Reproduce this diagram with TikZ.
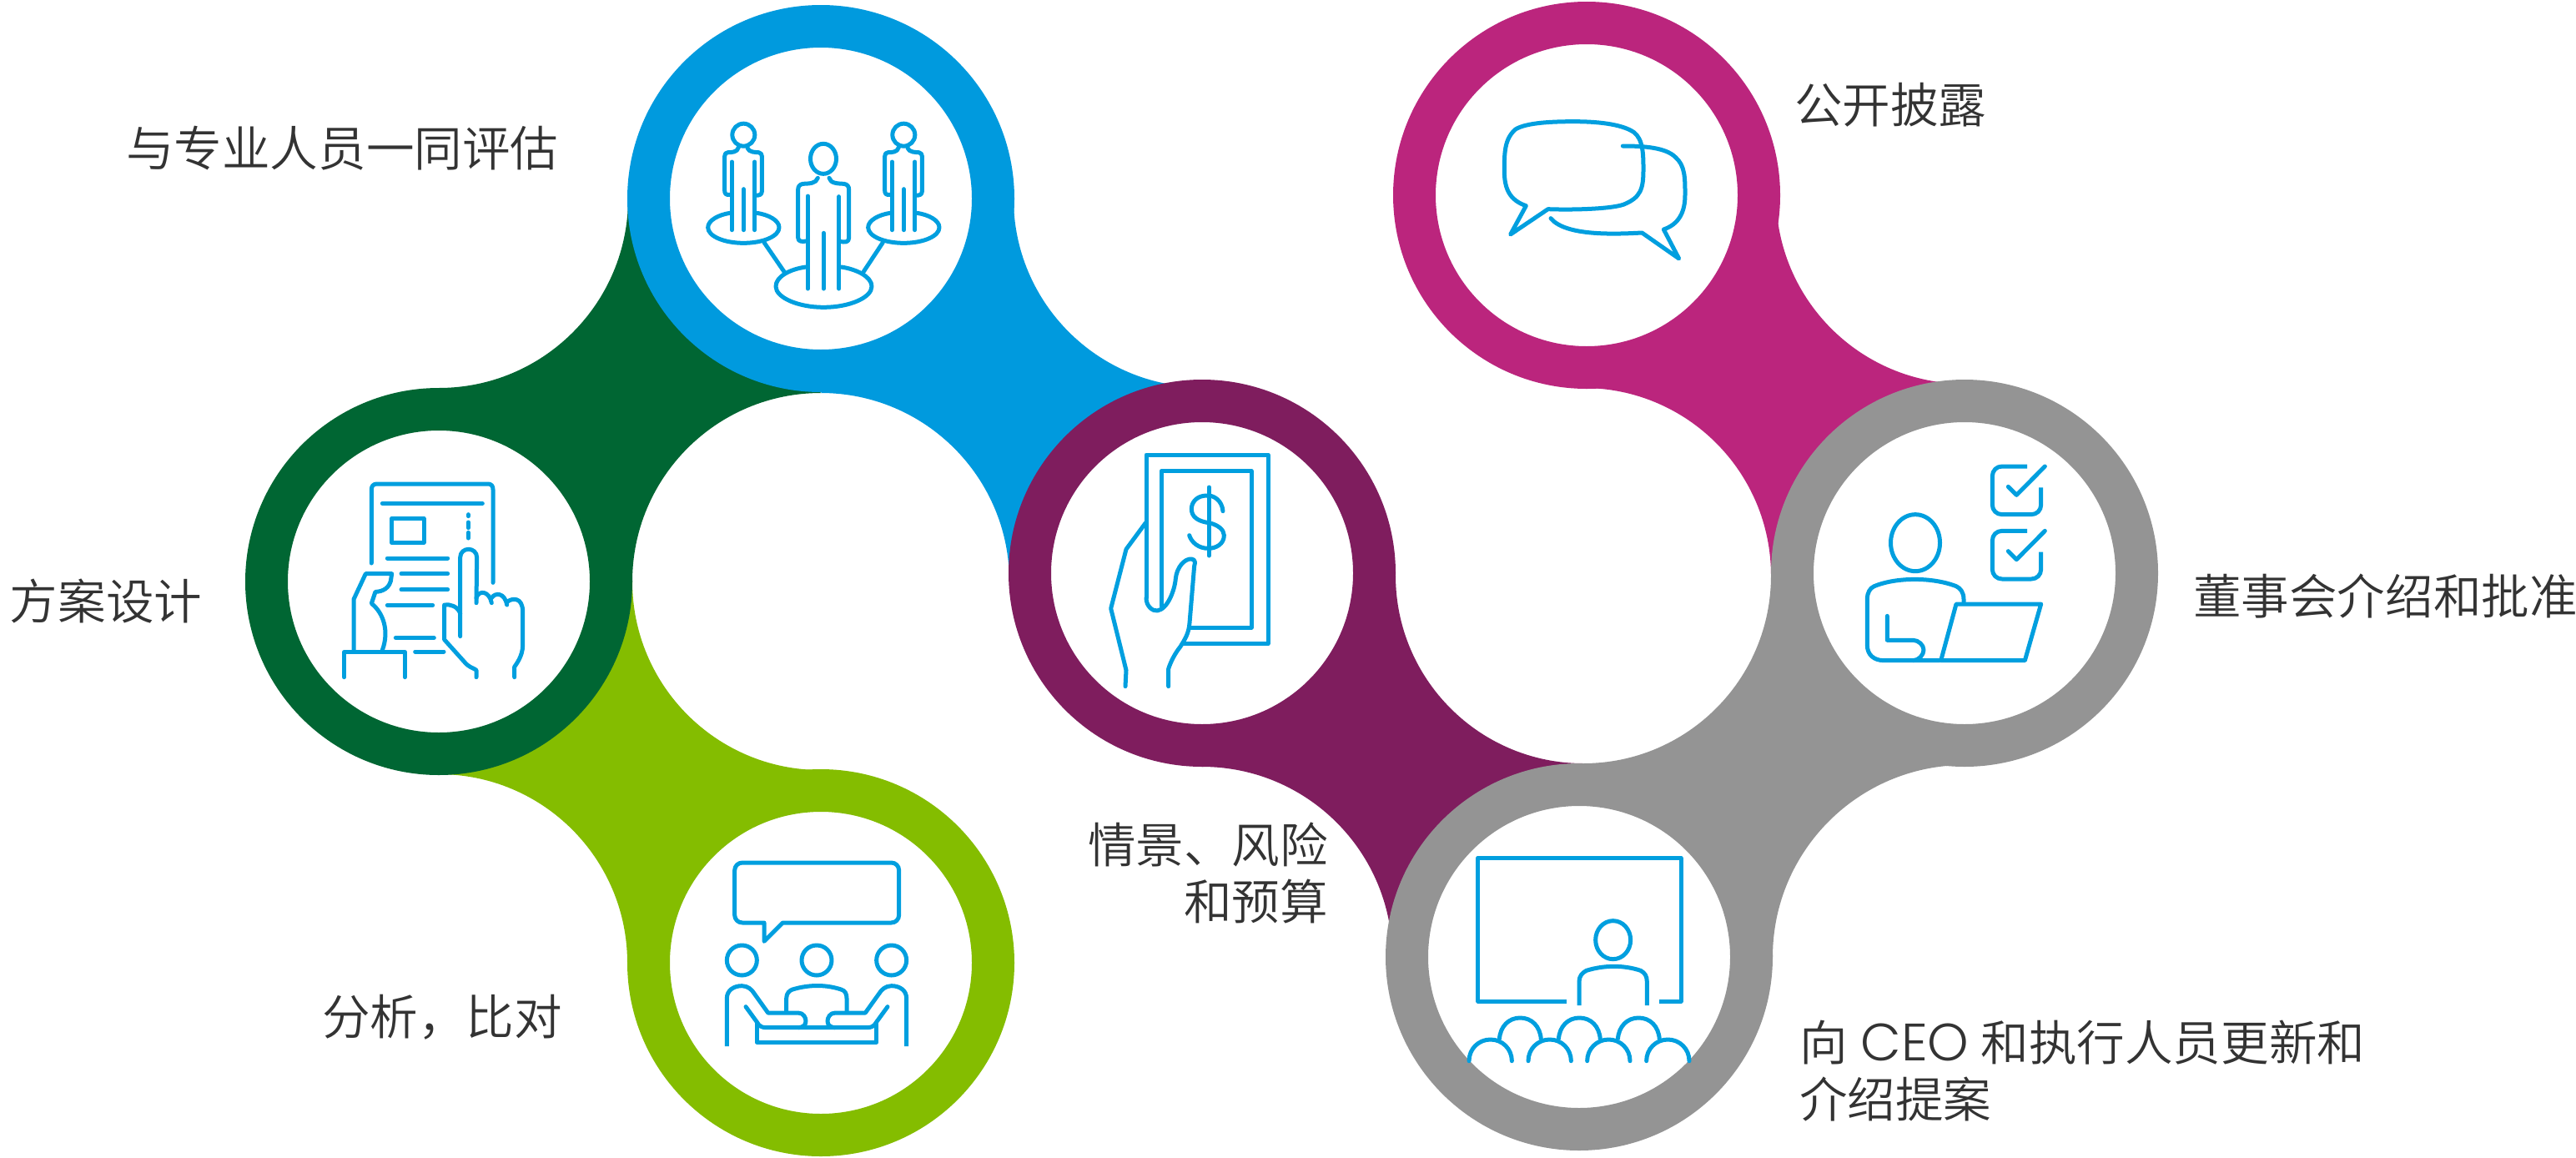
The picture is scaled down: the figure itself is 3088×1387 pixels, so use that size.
\documentclass[tikz,border=0pt]{standalone}
\usepackage{fontspec}
\setmainfont{Noto Sans CJK SC DemiLight}
\newfontfamily\latinface{Poppins Light}
\definecolor{cblue}{HTML}{009ADE}
\definecolor{cdgreen}{HTML}{006633}
\definecolor{clgreen}{HTML}{84BD00}
\definecolor{cpurple}{HTML}{7F1D5E}
\definecolor{cmagenta}{HTML}{BB257D}
\definecolor{cgray}{HTML}{949494}
\definecolor{cicon}{HTML}{009FDF}
\definecolor{ctext}{HTML}{333333}
% #1 colour, #2 #3 directions in x and y, (#4,#5) r=#6 first hollow, (#7,#8) r=#9 second hollow
\newcommand{\linkshape}[9]{%
  \pgfmathsetmacro{\ka}{0.5523*#6}%
  \pgfmathsetmacro{\kb}{0.5523*#9}%
  \fill[#1] ({#4-#2*#6},#5)
    .. controls ({#4-#2*#6},{#5+#3*\ka}) and ({#4-#2*\ka},{#5+#3*#6}) .. (#4,{#5+#3*#6})
    -- ({#7+#2*#9},#8)
    .. controls ({#7+#2*#9},{#8-#3*\kb}) and ({#7+#2*\kb},{#8-#3*#9}) .. (#7,{#8-#3*#9})
    -- cycle;}
\tikzset{
  ringnode/.style={circle,draw=#1,line width=51pt,fill=white,minimum size=413pt,inner sep=0pt,outer sep=0pt},
  label/.style={font=\fontsize{57.6}{68}\selectfont,text=ctext,inner sep=0pt,outer sep=0pt},
  icon/.style={draw=cicon,line width=5pt,line cap=round,line join=round},
  zoomed/.style={x=0.33333pt,y=-0.33333pt}
}
\begin{document}
\begin{tikzpicture}[x=1pt,y=-1pt]
\useasboundingbox (0,0) rectangle (3088,1387);
% connecting shapes
\linkshape{cdgreen}{1}{-1}{984}{697}{226}{526}{238}{227}
\linkshape{clgreen}{1}{1}{984}{697}{226}{526}{1154}{226}
\linkshape{cblue}{1}{1}{1441}{238}{226}{984}{697}{226}
\linkshape{cpurple}{1}{1}{1898}{690}{225}{1441}{1147}{228}
\linkshape{cgray}{1}{-1}{2355}{1147}{230}{1898}{690}{225}
\linkshape{cmagenta}{1}{1}{2355}{234}{226}{1898}{690}{225}
% rings
\node[ringnode=cdgreen] (plan) at (526,697) {};
\node[ringnode=clgreen] (compare) at (984,1154) {};
\node[ringnode=cblue] (experts) at (984,238) {};
\node[ringnode=cpurple] (risk) at (1441,687) {};
\node[ringnode=cgray] (ceo) at (1893,1147) {};
\node[ringnode=cgray] (board) at (2355,687) {};
\node[ringnode=cmagenta] (public) at (1902,234) {};
% people icon
\begin{scope}[shift={(760,40)},zoomed]
  \foreach \dx in {0,576}{
    \begin{scope}[shift={(\dx,0)}]
      \draw[icon] (394,365) ellipse[x radius=13.5pt,y radius=13.5pt];
      \draw[icon] (376,410) .. controls (372,428) and (350,428) .. (338,428) .. controls (330,428) and (326,434) .. (326,442) -- (326,565) .. controls (326,578) and (332,582) .. (345,580);
      \draw[icon] (408,412) .. controls (412,428) and (440,428) .. (448,428) .. controls (456,430) and (460,434) .. (460,442) -- (460,568) .. controls (460,580) and (450,584) .. (436,582);
      \draw[icon] (352,462) -- (352,707);
      \draw[icon] (434,462) -- (434,707);
      \draw[icon] (394,560) -- (394,707);
      \draw[icon] (345,646) .. controls (305,652) and (266,672) .. (266,698) .. controls (266,729) and (323,754) .. (394,754) .. controls (465,754) and (522,729) .. (522,698) .. controls (522,672) and (483,652) .. (442,646);
    \end{scope}}
  \draw[icon] (681,451) ellipse[x radius=15.5pt,y radius=18pt];
  \draw[icon] (661,520) .. controls (655,540) and (630,540) .. (608,541) .. controls (596,543) and (590,550) .. (590,562) -- (590,735) .. controls (590,750) and (605,750) .. (625,746);
  \draw[icon] (702,520) .. controls (706,540) and (735,540) .. (755,541) .. controls (767,543) and (773,550) .. (773,562) -- (773,735) .. controls (773,752) and (758,752) .. (740,748);
  \draw[icon] (625,585) -- (625,918);
  \draw[icon] (737,587) -- (737,918);
  \draw[icon] (682,718) -- (682,918);
  \draw[icon] (618,840) .. controls (560,848) and (510,875) .. (510,910) .. controls (510,950) and (590,985) .. (682,985) .. controls (775,985) and (855,950) .. (855,910) .. controls (855,875) and (800,848) .. (745,840);
  \draw[icon] (468,752) -- (542,860);
  \draw[icon] (895,752) -- (825,858);
\end{scope}
% document icon
\begin{scope}[shift={(370,540)},zoomed]
  \draw[icon] (226,405) -- (226,140) .. controls (226,128) and (233,120) .. (245,120) -- (645,120) .. controls (657,120) and (663,128) .. (663,140) -- (663,475);
  \draw[icon] (265,190) -- (625,190);
  \draw[icon] (299,244) rectangle (414,331);
  \draw[icon] (574,230) -- (574,236);
  \draw[icon] (574,258) -- (574,278);
  \draw[icon] (574,295) -- (574,315);
  \draw[icon] (283,387) -- (500,387);
  \draw[icon] (333,443) -- (500,443);
  \draw[icon] (333,500) -- (500,500);
  \draw[icon] (283,556) -- (446,556);
  \draw[icon] (313,673) -- (451,673);
  \draw[icon] (383,723) -- (486,723);
  \draw[icon] (162,720) -- (162,535) -- (205,443) -- (299,443) -- (295,470) .. controls (285,505) and (250,508) .. (240,508) -- (226,550) .. controls (270,585) and (290,650) .. (265,718);
  \draw[icon] (128,815) -- (128,725) -- (346,725) -- (346,815);
  \draw[icon] (545,668) -- (545,385) .. controls (545,345) and (605,345) .. (605,385) -- (603,548);
  \draw[icon] (603,530) .. controls (612,500) and (650,505) .. (658,548);
  \draw[icon] (658,530) .. controls (670,510) and (705,510) .. (713,555);
  \draw[icon] (713,545) .. controls (730,530) and (770,525) .. (770,580) -- (770,700) .. controls (770,740) and (745,770) .. (740,778) -- (740,815);
  \draw[icon] (545,585) .. controls (535,560) and (510,552) .. (488,555) -- (488,680) -- (560,760) .. controls (575,780) and (600,785) .. (603,790) -- (603,815);
\end{scope}
% meeting icon
\begin{scope}[shift={(830,1000)},zoomed]
  \draw[icon] (258,385) -- (258,318) -- (180,318) .. controls (164,318) and (152,306) .. (152,290) -- (152,130) .. controls (152,114) and (164,102) .. (180,102) -- (715,102) .. controls (731,102) and (743,114) .. (743,130) -- (743,290) .. controls (743,306) and (731,318) .. (715,318) -- (325,318) -- cycle;
  \draw[icon] (178,453) circle[radius=18pt];
  \draw[icon] (447,453) circle[radius=18pt];
  \draw[icon] (716,453) circle[radius=18pt];
  \draw[icon,line cap=butt] (124,762) -- (124,590) .. controls (124,560) and (150,545) .. (178,545) .. controls (200,545) and (215,560) .. (222,572) -- (272,642) -- (380,642) .. controls (400,642) and (408,660) .. (408,672) .. controls (408,688) and (395,695) .. (380,695);
  \draw[icon,line cap=butt] (770,762) -- (770,590) .. controls (770,560) and (744,545) .. (716,545) .. controls (694,545) and (679,560) .. (672,572) -- (622,642) -- (514,642) .. controls (494,642) and (486,660) .. (486,672) .. controls (486,688) and (499,695) .. (514,695);
  \draw[icon] (192,620) -- (232,675) .. controls (240,690) and (250,695) .. (265,695) -- (629,695) .. controls (644,695) and (654,690) .. (662,675) -- (702,620);
  \draw[icon] (232,680) -- (232,748) -- (662,748) -- (662,680);
  \draw[icon] (338,640) -- (338,590) .. controls (338,570) and (350,562) .. (360,558) .. controls (420,540) and (480,540) .. (535,558) .. controls (550,562) and (555,575) .. (555,590) -- (555,640);
\end{scope}
% tablet icon
\begin{scope}[shift={(1300,510)},zoomed]
  \draw[icon] (222,620) -- (222,105) -- (660,105) -- (660,785) -- (355,785);
  \draw[icon] (222,620) .. controls (222,650) and (245,668) .. (262,666) .. controls (300,660) and (325,590) .. (328,550) .. controls (332,510) and (360,478) .. (385,480) .. controls (400,482) and (398,495) .. (395,505) -- (378,710) .. controls (375,750) and (360,770) .. (345,795) .. controls (325,820) and (310,850) .. (302,875) -- (302,938);
  \draw[icon] (277,650) -- (277,163) -- (600,163) -- (600,727) -- (378,727);
  \draw[icon] (220,350) -- (150,445) -- (95,658) -- (150,880) -- (147,938);
  \draw[icon] (448,222) -- (448,468);
  \draw[icon] (498,308) .. controls (495,270) and (465,250) .. (440,252) .. controls (405,252) and (385,275) .. (385,300) .. controls (385,330) and (410,345) .. (448,350) .. controls (480,357) and (502,375) .. (502,395) .. controls (502,425) and (475,442) .. (445,442) .. controls (410,442) and (385,420) .. (377,395);
\end{scope}
% presentation icon
\begin{scope}[shift={(1760,1000)},zoomed]
  \draw[icon,line cap=butt] (354,600) -- (35,600) -- (35,85) -- (765,85) -- (765,600) -- (688,600);
  \draw[icon] (521,380) ellipse[x radius=21pt,y radius=23pt];
  \draw[icon,line cap=butt] (399,615) -- (399,530) .. controls (399,510) and (410,498) .. (425,490) .. controls (490,470) and (560,470) .. (620,490) .. controls (635,498) and (643,510) .. (643,530) -- (643,615);
  \foreach \c in {187,400,613}{
    \draw[icon,line cap=butt] ({\c-75},738) .. controls ({\c-72},690) and ({\c-41},660) .. (\c,660) .. controls ({\c+41},660) and ({\c+72},690) .. ({\c+75},738);}
  \foreach \c in {80,293,505,718}{
    \draw[icon] ({\c-77},815) .. controls ({\c-77},772) and ({\c-43},738) .. (\c,738) .. controls ({\c+43},738) and ({\c+77},772) .. ({\c+77},815);}
\end{scope}
% board icon
\begin{scope}[shift={(2210,530)},zoomed]
  \draw[icon] (258,362) ellipse[x radius=29.5pt,y radius=34pt];
  \draw[icon] (432,575) -- (432,565) .. controls (432,540) and (420,525) .. (405,518) .. controls (320,485) and (190,485) .. (110,518) .. controls (95,525) and (85,540) .. (85,565) -- (85,730) .. controls (85,765) and (110,785) .. (145,785) -- (345,785);
  \draw[icon] (157,625) -- (157,712) -- (250,712) .. controls (270,712) and (288,730) .. (288,747) .. controls (288,765) and (270,785) .. (250,785);
  \draw[icon] (350,785) -- (405,582) -- (710,582) -- (652,785) -- cycle;
  \foreach \dy in {0,232}{
    \begin{scope}[shift={(0,\dy)}]
      \draw[icon,line cap=butt] (660,87) -- (570,87) .. controls (550,87) and (535,102) .. (535,122) -- (535,225) .. controls (535,245) and (550,260) .. (570,260) -- (675,260) .. controls (695,260) and (710,245) .. (710,225) -- (710,163);
      \draw[icon] (592,160) -- (622,190) -- (724,87);
    \end{scope}}
\end{scope}
% speech icon
\begin{scope}[shift={(1770,120)},zoomed]
  \draw[icon] (122,483) -- (178,380) .. controls (120,360) and (100,320) .. (100,255) .. controls (100,190) and (100,140) .. (140,105) .. controls (180,80) and (280,77) .. (350,77) .. controls (430,77) and (520,85) .. (565,115) .. controls (600,140) and (600,200) .. (600,250) .. controls (600,320) and (590,350) .. (530,375) .. controls (480,393) and (330,395) .. (257,392) -- cycle;
  \draw[icon] (526,165) .. controls (600,165) and (680,170) .. (715,205) .. controls (750,235) and (750,280) .. (750,340) .. controls (750,400) and (730,445) .. (673,465) -- (728,570) -- (595,477) .. controls (500,482) and (320,490) .. (267,425);
\end{scope}
% labels
\node[label,anchor=west] (t1) at (151,178) {与专业人员一同评估};
\node[label,anchor=west] (t2) at (12,721) {方案设计};
\node[label,anchor=west] (t3) at (386,1219) {分析，比对};
\node[label,anchor=east,align=right] (t4) at (1592,1046) {情景、风险\\和预算};
\node[label,anchor=west] (t5) at (2151,126) {公开披露};
\node[label,anchor=west] (t6) at (2629,715) {董事会介绍和批准};
\node[label,anchor=west,align=left] (t7) at (2157,1284) {向\hspace*{16pt}{\latinface\fontsize{63}{68}\selectfont CEO}\hspace*{14pt}和执行人员更新和\\介绍提案};
\end{tikzpicture}
\end{document}
